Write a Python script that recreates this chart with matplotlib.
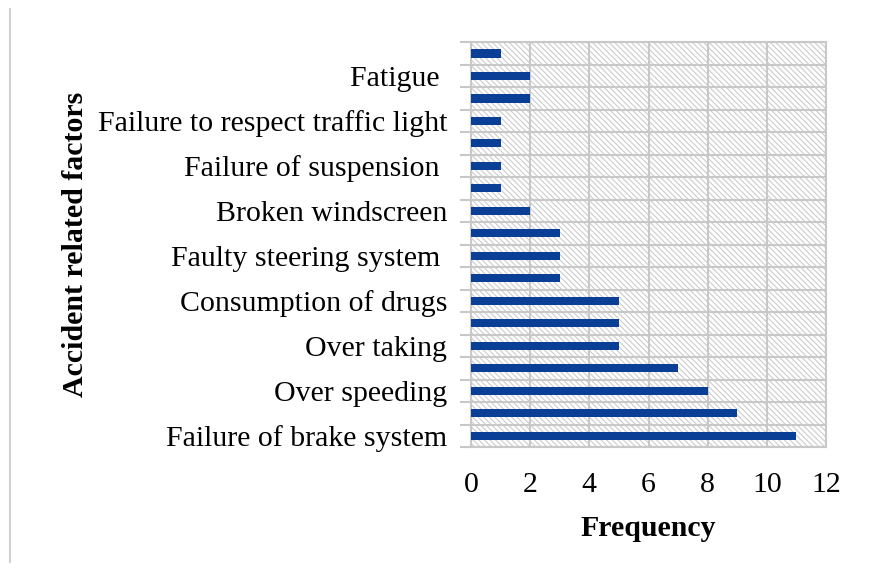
import matplotlib.pyplot as plt
import numpy as np
from matplotlib.patches import Rectangle
from matplotlib.lines import Line2D

# categories from bottom to top (only every other one is labelled in the chart)
factors = ['Failure of brake system', '', 'Over speeding', '', 'Over taking', '',
           'Consumption of drugs', '', 'Faulty steering system ', '',
           'Broken windscreen', '', 'Failure of suspension ', '',
           'Failure to respect traffic light', '', 'Fatigue ', '']
frequency = [11, 9, 8, 7, 5, 5, 5, 3, 3, 3, 2, 1, 1, 1, 1, 2, 2, 1]
x_ticks = [0, 2, 4, 6, 8, 10, 12]

grid_col = '#c8c8c8'
bar_col = '#0b3f96'

plt.rcParams['font.family'] = ['Liberation Serif', 'DejaVu Serif']
plt.rcParams['hatch.linewidth'] = 0.8
plt.rcParams['hatch.color'] = '#cccccc'

fig = plt.figure(figsize=(8.74, 5.79), dpi=100)
ax = fig.add_axes([0.539, 0.228, 0.406, 0.699])

y = np.arange(len(frequency))
ax.barh(y, frequency, height=0.36, color=bar_col, zorder=3)

# hatched plot area background
ax.add_patch(Rectangle((0, 0), 1, 1, transform=ax.transAxes, facecolor='white',
                       edgecolor='#cccccc', hatch='\\' * 6, linewidth=0, zorder=0))

ax.set_xlim(0, 12)
ax.set_ylim(-0.5, len(frequency) - 0.5)
ax.set_xticks(x_ticks)
ax.set_xticklabels([str(t) for t in x_ticks], fontsize=21.5)
ax.tick_params(axis='x', length=0, pad=18)

# boundaries get tick marks, centres get the labels
ax.set_yticks(np.arange(len(frequency) + 1) - 0.5)
ax.set_yticklabels([])
ax.set_yticks(y, minor=True)
ax.set_yticklabels(factors, minor=True, fontsize=21.5)
ax.tick_params(axis='y', which='major', length=8, width=1.5, color=grid_col)
ax.tick_params(axis='y', which='minor', length=0, pad=17)

ax.grid(True, which='major', color=grid_col, linewidth=1.5, zorder=1)
ax.set_axisbelow(True)
for s in ax.spines.values():
    s.set_color(grid_col)
    s.set_linewidth(1.5)

ax.set_xlabel('Frequency', fontsize=21.5, fontweight='bold', labelpad=12)
ax.set_ylabel('Accident related factors', fontsize=21.5, fontweight='bold')
ax.yaxis.set_label_coords(-1.076, 0.5)

fig.add_artist(Line2D([0.012, 0.012], [0.03, 0.985], color='#d0d0d0', linewidth=1.5))

plt.savefig('out.png', dpi=100)
